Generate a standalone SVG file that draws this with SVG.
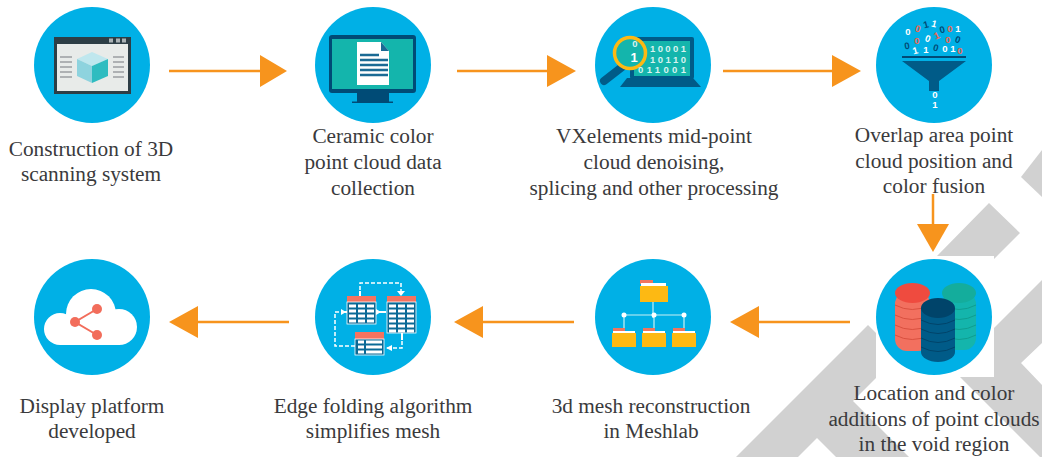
<svg xmlns="http://www.w3.org/2000/svg" width="1042" height="457" viewBox="0 0 1042 457">
<style>
.t{font-family:"Liberation Serif","DejaVu Serif",serif;font-size:21.300px;fill:#3a3a3c;text-anchor:middle}
.c{fill:#00b0e6}
.l{stroke:#f7941d;stroke-width:2.5;fill:none}
.h{fill:#f7941d}
.b{font-family:"Liberation Sans",sans-serif;font-size:9.500px;font-weight:bold;text-anchor:middle}
.w{fill:#fff}.r{fill:#f0654e}.d{fill:#004b76}
.s{fill:#d8f3f0}
</style>
<rect width="1042" height="457" fill="#fff"/>
<g id="watermark" fill="#d1d1d1">
<polygon points="1042,150 1021,177 1042,197"/>
<polygon points="937,256 989,203 1020,233 994,259 994,256"/>
<polygon points="1042,280 994,328 994,377 960,377 1040,457 1042,457 1042,385 1021,363 1042,343"/>
<polygon points="868,325 736,457 798,457 817,438 836,457 909,457 853,401 876,378 876,333"/>
</g>
<g id="connectors">
<path class="l" d="M169 71H262"/><polygon class="h" points="260,55 287,71 260,87"/>
<path class="l" d="M457 71H550"/><polygon class="h" points="547,55 576,71 547,87"/>
<path class="l" d="M723 71H835"/><polygon class="h" points="832,55 861,71 832,87"/>
<path class="l" d="M933 194V226"/><polygon class="h" points="917,224 949,224 933,252"/>
<path class="l" d="M850 322H757"/><polygon class="h" points="759,306 730,322 759,338"/>
<path class="l" d="M574 322H481"/><polygon class="h" points="483,306 454,322 483,338"/>
<path class="l" d="M289 322H196"/><polygon class="h" points="198,306 169,322 198,338"/>
</g>
<g id="node1">
<circle class="c" cx="92" cy="65" r="58"/>
<rect x="54" y="37" width="77" height="57" fill="#2d3e46"/>
<rect x="57" y="44" width="71" height="47" fill="#e8ebe9"/>
<g fill="#aab2b5"><rect x="109" y="38.500" width="4" height="4"/><rect x="116" y="38.500" width="4" height="4"/><rect x="122" y="38.500" width="4" height="4"/></g>
<path d="M60 57H72M60 62H72M60 67H72M60 72H72M60 77H72M113 57H124M113 62H124M113 67H124M113 72H124M113 77H124" stroke="#9b9fa1" stroke-width="1.500"/>
<polygon points="77,59 92,52 108,59 92,66" fill="#bfe7ee"/>
<polygon points="77,59 92,66 92,83 77,76" fill="#8ed3de"/>
<polygon points="108,59 92,66 92,83 108,76" fill="#2fbcc0"/>
</g>
<g id="node2">
<circle class="c" cx="373" cy="65" r="58"/>
<rect x="329" y="35" width="87" height="58" rx="3" fill="#004b76"/>
<rect x="332" y="39" width="81" height="50" fill="#14b5ac"/>
<rect x="357" y="93" width="32" height="9" fill="#004b76"/>
<rect x="352" y="101.500" width="41" height="1.500" fill="#004b76"/>
<polygon points="357,42 381,42 389,51 389,85 357,85" fill="#fff"/>
<polygon points="381,42 389,51 381,51" fill="#1a6a94"/>
<path d="M360 55H379M360 60H388M360 65H388M360 70H388M360 75H388" stroke="#1a6a94" stroke-width="2.500"/>
</g>
<g id="node3">
<circle class="c" cx="653" cy="65" r="58"/>
<rect x="630" y="37" width="64" height="42" rx="2" fill="#005b88"/>
<rect x="634" y="41" width="56" height="35" fill="#14b5ac"/>
<polygon points="627,78 693,78 701,87 620,87" fill="#005b88"/>
<path d="M622 67L604 81" stroke="#005b88" stroke-width="8" stroke-linecap="round"/>
<text class="b s" x="668" y="52" textLength="36">10001</text>
<text class="b s" x="668" y="62.500" textLength="36">10110</text>
<circle cx="630" cy="53" r="15.500" fill="#14b5ac" stroke="#fdb913" stroke-width="3.500"/>
<text class="b s" x="662" y="73" textLength="48">011001</text>
<text class="b w" x="634" y="62" style="font-size:13px">1</text>
<text class="b s" x="635" y="47">0</text>
</g>
<g id="node4">
<circle class="c" cx="934" cy="65" r="58"/>
<rect x="902" y="56" width="64" height="2" fill="#004b76"/>
<polygon points="902,61 966,61 939,81 939,91 929,91 929,81" fill="#005b88"/>
<text class="b w" x="908" y="35">0</text>
<text class="b r" x="918" y="32" transform="rotate(15 918 28)">0</text>
<text class="b d" x="926" y="28" transform="rotate(-15 926 25)">1</text>
<text class="b w" x="934" y="27" transform="rotate(15 934 24)">1</text>
<text class="b d" x="942" y="33" transform="rotate(-15 942 29)">0</text>
<text class="b r" x="950" y="32">0</text>
<text class="b w" x="958" y="32">1</text>
<text class="b d" x="907" y="49" transform="rotate(-10 907 45)">0</text>
<text class="b r" x="917" y="44">0</text>
<text class="b w" x="928" y="42" transform="rotate(20 928 38)">0</text>
<text class="b r" x="937" y="39" transform="rotate(-25 937 36)">1</text>
<text class="b r" x="948" y="43">0</text>
<text class="b d" x="958" y="43" transform="rotate(20 958 39)">0</text>
<text class="b w" x="915" y="54" transform="rotate(-15 915 50)">1</text>
<text class="b w" x="926" y="53">1</text>
<text class="b d" x="936" y="51" transform="rotate(15 936 47)">0</text>
<text class="b w" x="945" y="52">0</text>
<text class="b w" x="953" y="52">1</text>
<text class="b r" x="960" y="54">0</text>
<text class="b w" x="935" y="98">0</text>
<text class="b w" x="935" y="108">1</text>
</g>
<g id="node5">
<rect x="876" y="256" width="118" height="121" fill="#fff"/>
<circle class="c" cx="934" cy="317" r="58"/>
<rect x="942" y="292" width="34" height="58" rx="12" fill="#14b5ac"/>
<ellipse cx="959" cy="293" rx="17" ry="10" fill="#14ad9c"/>
<path d="M942 305q17 9 34 0M942 315q17 9 34 0M942 325q17 9 34 0M942 335q17 9 34 0" stroke="#0f9d90" stroke-width="1" fill="none"/>
<rect x="895" y="292" width="35" height="59" rx="12" fill="#f2705f"/>
<ellipse cx="912.500" cy="293" rx="17.500" ry="10" fill="#ef4b3f"/>
<path d="M895 305q17 9 35 0M895 315q17 9 35 0M895 325q17 9 35 0M895 335q17 9 35 0" stroke="#d9503f" stroke-width="1" fill="none"/>
<path d="M921 308V352a17 10 0 0 0 34 0V308z" fill="#005b88"/>
<ellipse cx="938" cy="308" rx="17" ry="10" fill="#00446a"/>
<path d="M921 320q17 9 34 0M921 329q17 9 34 0M921 338q17 9 34 0M921 347q17 9 34 0" stroke="#00446a" stroke-width="1" fill="none"/>
</g>
<g id="node6">
<circle class="c" cx="653" cy="317" r="58"/>
<path d="M653 300V318M624 315V330M654 315V330M684 315V330M624 315H684" stroke="#c8f0f4" stroke-width="1.200" fill="none"/>
<g fill="#fff"><circle cx="624" cy="315" r="2.500"/><circle cx="654" cy="315" r="2.500"/><circle cx="684" cy="315" r="2.500"/></g>
<g fill="#fdb913">
<path d="M640 280h13v4h-13z" fill="#f0755f"/><rect x="641" y="283" width="25" height="4" fill="#fff"/><rect x="640" y="286" width="28" height="16"/>
<path d="M613 328h12v3h-12z" fill="#f0755f"/><rect x="613" y="331" width="22" height="3" fill="#fff"/><rect x="612" y="333" width="24" height="14"/>
<path d="M643 328h12v3h-12z" fill="#f0755f"/><rect x="643" y="331" width="22" height="3" fill="#fff"/><rect x="642" y="333" width="24" height="14"/>
<path d="M673 328h12v3h-12z" fill="#f0755f"/><rect x="673" y="331" width="22" height="3" fill="#fff"/><rect x="672" y="333" width="24" height="14"/>
</g>
</g>
<g id="node7">
<circle class="c" cx="373" cy="317" r="58"/>
<path d="M360 296V283H401V292M355 346H335V312H342M387 348H402V336" stroke="#fff" stroke-width="1.500" stroke-dasharray="4 2" fill="none"/>
<path d="M360 291V296M355 312H342M377 312H386M402 333V340" stroke="#fff" stroke-width="2" fill="none"/>
<polygon points="397,291 405,291 401,296" fill="#fff"/><polygon points="341,309 346,312 341,315" fill="#fff"/><polygon points="381,312 376,309 376,315" fill="#fff"/><polygon points="386,348 392,345 392,351" fill="#fff"/>
<rect x="347" y="296" width="29" height="7" fill="#f5735f"/><rect x="347" y="302" width="29" height="22" fill="#0a6a96" stroke="#fff" stroke-width="0.800"/>
<path d="M349 306H374M349 311H374M349 316H374M349 321H374" stroke="#fff" stroke-width="3" stroke-dasharray="7 2"/>
<rect x="387" y="296" width="29" height="7" fill="#f5735f"/><rect x="387" y="302" width="29" height="31" fill="#0a6a96" stroke="#fff" stroke-width="0.800"/>
<path d="M389 306H414M389 311H414M389 316H414M389 321H414M389 326H414M389 331H414" stroke="#fff" stroke-width="3" stroke-dasharray="7 2"/>
<rect x="355" y="332" width="29" height="7" fill="#f5735f"/><rect x="355" y="339" width="29" height="16" fill="#0a6a96" stroke="#fff" stroke-width="0.800"/>
<path d="M358 342H364M366 342H382M358 347H364M366 347H382M358 352H364M366 352H382" stroke="#fff" stroke-width="3"/>
</g>
<g id="node8">
<circle class="c" cx="92" cy="317" r="58"/>
<g fill="#fff"><circle cx="60" cy="329" r="16"/><circle cx="91" cy="314" r="25"/><circle cx="119" cy="327" r="18"/><rect x="60" y="320" width="60" height="25"/></g>
<path d="M97 309L75 322L97 335" stroke="#f26d5b" stroke-width="2" fill="none"/>
<g fill="#f26d5b"><circle cx="97" cy="309" r="5"/><circle cx="75" cy="322" r="5"/><circle cx="97" cy="335" r="5"/></g>
</g>
<g id="labels">
<text class="t" x="91" y="156">Construction of 3D</text>
<text class="t" x="91" y="181">scanning system</text>
<text class="t" x="373" y="143">Ceramic color</text>
<text class="t" x="373" y="169">point cloud data</text>
<text class="t" x="373" y="195">collection</text>
<text class="t" x="654" y="143">VXelements mid-point</text>
<text class="t" x="654" y="169">cloud denoising,</text>
<text class="t" x="654" y="195">splicing and other processing</text>
<text class="t" x="934" y="142">Overlap area point</text>
<text class="t" x="934" y="168">cloud position and</text>
<text class="t" x="934" y="193">color fusion</text>
<text class="t" x="934" y="400">Location and color</text>
<text class="t" x="934" y="426">additions of point clouds</text>
<text class="t" x="934" y="451">in the void region</text>
<text class="t" x="92" y="413">Display platform</text>
<text class="t" x="92" y="438">developed</text>
<text class="t" x="373" y="413">Edge folding algorithm</text>
<text class="t" x="373" y="438">simplifies mesh</text>
<text class="t" x="651" y="413">3d mesh reconstruction</text>
<text class="t" x="651" y="438">in Meshlab</text>
</g>
</svg>
